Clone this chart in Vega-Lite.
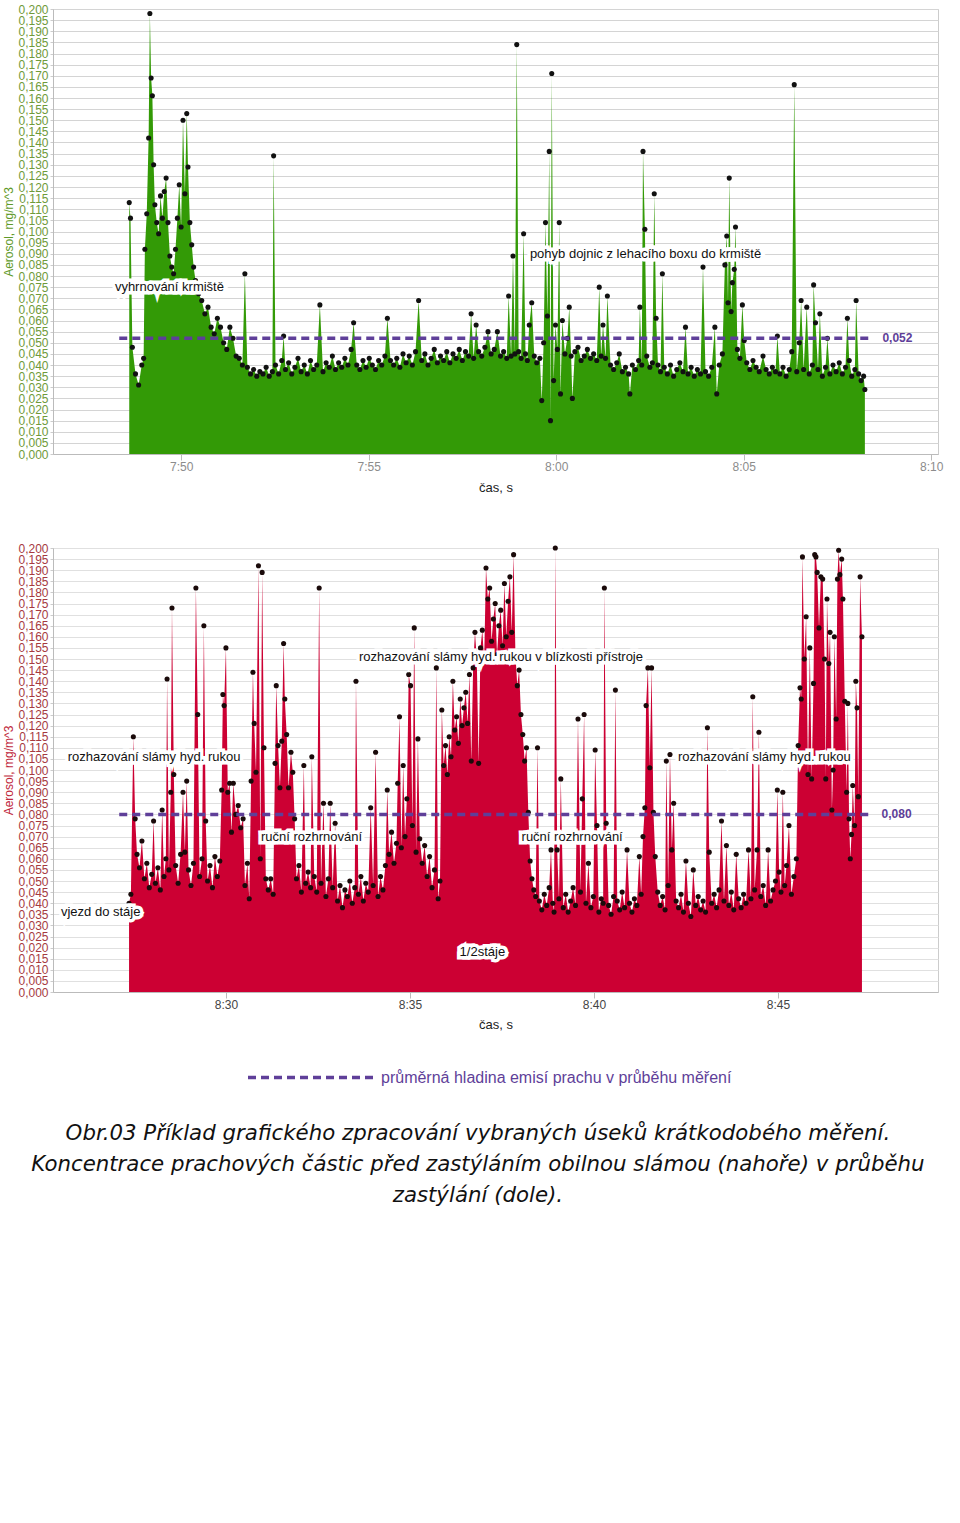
{
  "$schema": "https://vega.github.io/schema/vega-lite/v6.json",
  "background": "white",
  "padding": {"top": 2, "left": 2, "right": 10, "bottom": 20},
  "spacing": 46,
  "config": {
    "font": "Liberation Sans",
    "view": {"stroke": "#cccccc", "strokeWidth": 1},
    "axis": {"labelFont": "Liberation Sans", "titleFont": "Liberation Sans", "titleFontWeight": "normal"}
  },
  "title": {
    "text": ["Obr.03 Příklad grafického zpracování vybraných úseků krátkodobého měření.", "Koncentrace prachových částic před zastýláním obilnou slámou (nahoře) v průběhu", "zastýlání (dole)."],
    "orient": "bottom", "anchor": "middle", "font": "DejaVu Sans", "fontStyle": "italic", "fontWeight": "normal",
    "fontSize": 21.3, "lineHeight": 31, "color": "#111111", "offset": 37, "dx": 5
  },
  "vconcat": [
    {
      "width": 885, "height": 445,
      "data": {"format": {"parse": {"t": "date:'%H:%M:%S'"}}, "values": [
        {"t":"07:48:37","v":0.113},{"t":"07:48:39","v":0.106},{"t":"07:48:42","v":0.048},{"t":"07:48:47","v":0.036},{"t":"07:48:52","v":0.031},{"t":"07:48:57","v":0.040},{"t":"07:49:00","v":0.043},
        {"t":"07:49:02","v":0.092},{"t":"07:49:05","v":0.108},{"t":"07:49:08","v":0.142},{"t":"07:49:10","v":0.198},{"t":"07:49:12","v":0.169},{"t":"07:49:14","v":0.161},{"t":"07:49:16","v":0.130},{"t":"07:49:18","v":0.112},{"t":"07:49:21","v":0.104},{"t":"07:49:24","v":0.099},{"t":"07:49:27","v":0.116},{"t":"07:49:30","v":0.106},{"t":"07:49:33","v":0.118},{"t":"07:49:36","v":0.124},{"t":"07:49:39","v":0.104},{"t":"07:49:42","v":0.089},{"t":"07:49:45","v":0.084},{"t":"07:49:48","v":0.081},{"t":"07:49:51","v":0.092},{"t":"07:49:54","v":0.106},{"t":"07:49:57","v":0.121},{"t":"07:50:00","v":0.102},{"t":"07:50:03","v":0.150},{"t":"07:50:06","v":0.117},{"t":"07:50:09","v":0.153},{"t":"07:50:11","v":0.129},{"t":"07:50:14","v":0.104},{"t":"07:50:17","v":0.094},{"t":"07:50:20","v":0.084},{"t":"07:50:23","v":0.078},
        {"t":"07:50:28","v":0.072},{"t":"07:50:33","v":0.069},{"t":"07:50:38","v":0.063},{"t":"07:50:43","v":0.066},{"t":"07:50:48","v":0.057},{"t":"07:50:53","v":0.054},{"t":"07:50:58","v":0.061},{"t":"07:51:03","v":0.057},{"t":"07:51:08","v":0.050},{"t":"07:51:13","v":0.047},{"t":"07:51:18","v":0.057},{"t":"07:51:23","v":0.052},{"t":"07:51:28","v":0.044},{"t":"07:51:33","v":0.043},{"t":"07:51:38","v":0.040},{"t":"07:51:42","v":0.081},{"t":"07:51:46","v":0.039},{"t":"07:51:51","v":0.036},{"t":"07:51:56","v":0.038},
        {"t":"07:52:01","v":0.035},{"t":"07:52:06","v":0.037},{"t":"07:52:11","v":0.036},{"t":"07:52:16","v":0.039},{"t":"07:52:21","v":0.035},{"t":"07:52:26","v":0.037},{"t":"07:52:28","v":0.134},{"t":"07:52:31","v":0.040},{"t":"07:52:36","v":0.036},{"t":"07:52:41","v":0.042},{"t":"07:52:44","v":0.053},{"t":"07:52:47","v":0.038},{"t":"07:52:52","v":0.041},{"t":"07:52:57","v":0.036},
        {"t":"07:53:02","v":0.039},{"t":"07:53:07","v":0.043},{"t":"07:53:12","v":0.037},{"t":"07:53:17","v":0.040},{"t":"07:53:22","v":0.036},{"t":"07:53:27","v":0.042},{"t":"07:53:32","v":0.038},{"t":"07:53:37","v":0.040},{"t":"07:53:42","v":0.067},{"t":"07:53:47","v":0.037},{"t":"07:53:52","v":0.041},{"t":"07:53:57","v":0.039},
        {"t":"07:54:02","v":0.044},{"t":"07:54:07","v":0.038},{"t":"07:54:12","v":0.041},{"t":"07:54:17","v":0.039},{"t":"07:54:22","v":0.043},{"t":"07:54:27","v":0.040},{"t":"07:54:32","v":0.047},{"t":"07:54:36","v":0.059},{"t":"07:54:41","v":0.040},{"t":"07:54:46","v":0.038},{"t":"07:54:51","v":0.042},{"t":"07:54:56","v":0.039},
        {"t":"07:55:01","v":0.043},{"t":"07:55:06","v":0.040},{"t":"07:55:11","v":0.038},{"t":"07:55:16","v":0.042},{"t":"07:55:21","v":0.040},{"t":"07:55:26","v":0.044},{"t":"07:55:30","v":0.061},{"t":"07:55:35","v":0.042},{"t":"07:55:40","v":0.040},{"t":"07:55:45","v":0.043},{"t":"07:55:50","v":0.039},{"t":"07:55:55","v":0.045},
        {"t":"07:56:00","v":0.041},{"t":"07:56:05","v":0.044},{"t":"07:56:10","v":0.040},{"t":"07:56:15","v":0.046},{"t":"07:56:20","v":0.069},{"t":"07:56:25","v":0.042},{"t":"07:56:30","v":0.045},{"t":"07:56:35","v":0.040},{"t":"07:56:40","v":0.043},{"t":"07:56:45","v":0.047},{"t":"07:56:50","v":0.041},{"t":"07:56:55","v":0.044},
        {"t":"07:57:00","v":0.042},{"t":"07:57:05","v":0.046},{"t":"07:57:10","v":0.041},{"t":"07:57:15","v":0.045},{"t":"07:57:20","v":0.043},{"t":"07:57:25","v":0.047},{"t":"07:57:30","v":0.042},{"t":"07:57:35","v":0.046},{"t":"07:57:40","v":0.044},{"t":"07:57:44","v":0.063},{"t":"07:57:48","v":0.043},{"t":"07:57:52","v":0.058},{"t":"07:57:56","v":0.046},
        {"t":"07:58:01","v":0.044},{"t":"07:58:06","v":0.048},{"t":"07:58:11","v":0.055},{"t":"07:58:16","v":0.045},{"t":"07:58:21","v":0.047},{"t":"07:58:26","v":0.055},{"t":"07:58:31","v":0.044},{"t":"07:58:36","v":0.046},{"t":"07:58:41","v":0.043},{"t":"07:58:44","v":0.071},{"t":"07:58:48","v":0.044},{"t":"07:58:51","v":0.089},{"t":"07:58:54","v":0.045},{"t":"07:58:57","v":0.184},
        {"t":"07:59:00","v":0.046},{"t":"07:59:04","v":0.043},{"t":"07:59:08","v":0.099},{"t":"07:59:11","v":0.045},{"t":"07:59:14","v":0.042},{"t":"07:59:17","v":0.058},{"t":"07:59:21","v":0.068},{"t":"07:59:25","v":0.044},{"t":"07:59:29","v":0.041},{"t":"07:59:34","v":0.043},{"t":"07:59:37","v":0.024},{"t":"07:59:40","v":0.050},{"t":"07:59:43","v":0.104},{"t":"07:59:46","v":0.062},{"t":"07:59:49","v":0.136},{"t":"07:59:51","v":0.015},{"t":"07:59:53","v":0.171},{"t":"07:59:56","v":0.033},{"t":"07:59:59","v":0.058},
        {"t":"08:00:02","v":0.047},{"t":"08:00:05","v":0.104},{"t":"08:00:07","v":0.027},{"t":"08:00:10","v":0.060},{"t":"08:00:14","v":0.045},{"t":"08:00:18","v":0.052},{"t":"08:00:21","v":0.066},{"t":"08:00:24","v":0.044},{"t":"08:00:26","v":0.025},{"t":"08:00:30","v":0.046},{"t":"08:00:35","v":0.048},{"t":"08:00:40","v":0.042},{"t":"08:00:45","v":0.044},{"t":"08:00:50","v":0.047},{"t":"08:00:55","v":0.043},
        {"t":"08:01:00","v":0.045},{"t":"08:01:05","v":0.042},{"t":"08:01:09","v":0.075},{"t":"08:01:12","v":0.044},{"t":"08:01:15","v":0.058},{"t":"08:01:19","v":0.043},{"t":"08:01:22","v":0.071},{"t":"08:01:27","v":0.040},{"t":"08:01:32","v":0.038},{"t":"08:01:37","v":0.041},{"t":"08:01:41","v":0.045},{"t":"08:01:46","v":0.037},{"t":"08:01:51","v":0.039},{"t":"08:01:56","v":0.036},{"t":"08:01:58","v":0.027},
        {"t":"08:02:02","v":0.040},{"t":"08:02:07","v":0.038},{"t":"08:02:12","v":0.042},{"t":"08:02:14","v":0.066},{"t":"08:02:17","v":0.040},{"t":"08:02:19","v":0.136},{"t":"08:02:22","v":0.101},{"t":"08:02:25","v":0.044},{"t":"08:02:30","v":0.039},{"t":"08:02:34","v":0.041},{"t":"08:02:37","v":0.117},{"t":"08:02:40","v":0.061},{"t":"08:02:43","v":0.040},{"t":"08:02:47","v":0.037},{"t":"08:02:50","v":0.081},{"t":"08:02:53","v":0.039},{"t":"08:02:58","v":0.036},
        {"t":"08:03:03","v":0.040},{"t":"08:03:08","v":0.035},{"t":"08:03:13","v":0.038},{"t":"08:03:18","v":0.041},{"t":"08:03:23","v":0.037},{"t":"08:03:27","v":0.057},{"t":"08:03:31","v":0.036},{"t":"08:03:36","v":0.039},{"t":"08:03:41","v":0.035},{"t":"08:03:46","v":0.038},{"t":"08:03:51","v":0.036},{"t":"08:03:55","v":0.084},{"t":"08:03:59","v":0.037},
        {"t":"08:04:04","v":0.035},{"t":"08:04:09","v":0.039},{"t":"08:04:14","v":0.057},{"t":"08:04:17","v":0.027},{"t":"08:04:21","v":0.040},{"t":"08:04:26","v":0.045},{"t":"08:04:30","v":0.085},{"t":"08:04:33","v":0.098},{"t":"08:04:35","v":0.068},{"t":"08:04:37","v":0.124},{"t":"08:04:40","v":0.064},{"t":"08:04:42","v":0.077},{"t":"08:04:45","v":0.083},{"t":"08:04:47","v":0.102},{"t":"08:04:50","v":0.047},{"t":"08:04:54","v":0.043},{"t":"08:04:58","v":0.067},
        {"t":"08:05:01","v":0.051},{"t":"08:05:05","v":0.041},{"t":"08:05:10","v":0.038},{"t":"08:05:15","v":0.042},{"t":"08:05:20","v":0.039},{"t":"08:05:25","v":0.037},{"t":"08:05:31","v":0.044},{"t":"08:05:36","v":0.038},{"t":"08:05:41","v":0.036},{"t":"08:05:46","v":0.039},{"t":"08:05:51","v":0.037},{"t":"08:05:54","v":0.053},{"t":"08:05:58","v":0.036},
        {"t":"08:06:03","v":0.039},{"t":"08:06:08","v":0.035},{"t":"08:06:13","v":0.038},{"t":"08:06:17","v":0.046},{"t":"08:06:21","v":0.166},{"t":"08:06:25","v":0.037},{"t":"08:06:29","v":0.050},{"t":"08:06:32","v":0.069},{"t":"08:06:36","v":0.038},{"t":"08:06:41","v":0.066},{"t":"08:06:45","v":0.036},{"t":"08:06:50","v":0.040},{"t":"08:06:52","v":0.076},{"t":"08:06:55","v":0.059},{"t":"08:06:59","v":0.038},
        {"t":"08:07:02","v":0.063},{"t":"08:07:06","v":0.035},{"t":"08:07:11","v":0.039},{"t":"08:07:14","v":0.052},{"t":"08:07:18","v":0.036},{"t":"08:07:23","v":0.040},{"t":"08:07:28","v":0.037},{"t":"08:07:33","v":0.041},{"t":"08:07:38","v":0.036},{"t":"08:07:43","v":0.039},{"t":"08:07:46","v":0.061},{"t":"08:07:49","v":0.042},{"t":"08:07:53","v":0.035},{"t":"08:07:58","v":0.038},
        {"t":"08:08:00","v":0.069},{"t":"08:08:04","v":0.036},{"t":"08:08:08","v":0.033},{"t":"08:08:12","v":0.035},{"t":"08:08:14","v":0.029}
      ]},
      "encoding": {
        "x": {"field": "t", "type": "temporal", "title": "čas, s",
          "scale": {"domain": [{"year": 1900, "month": 1, "date": 1, "hours": 7, "minutes": 46, "seconds": 35}, {"year": 1900, "month": 1, "date": 1, "hours": 8, "minutes": 10, "seconds": 11}]},
          "axis": {"values": [{"year": 1900, "month": 1, "date": 1, "hours": 7, "minutes": 50}, {"year": 1900, "month": 1, "date": 1, "hours": 7, "minutes": 55}, {"year": 1900, "month": 1, "date": 1, "hours": 8, "minutes": 0}, {"year": 1900, "month": 1, "date": 1, "hours": 8, "minutes": 5}, {"year": 1900, "month": 1, "date": 1, "hours": 8, "minutes": 10}],
            "format": "%-H:%M", "grid": false, "labelColor": "#8c8c8c", "labelFontSize": 12, "tickSize": 6, "tickColor": "#bbbbbb", "domainColor": "#bbbbbb", "labelPadding": 1, "titleColor": "#222222", "titleFontSize": 13, "titlePadding": 9, "labelFlush": false}},
        "y": {"field": "v", "type": "quantitative", "title": "Aerosol, mg/m^3",
          "scale": {"domain": [0, 0.2], "nice": false},
          "axis": {"values": [0,0.005,0.01,0.015,0.02,0.025,0.03,0.035,0.04,0.045,0.05,0.055,0.06,0.065,0.07,0.075,0.08,0.085,0.09,0.095,0.1,0.105,0.11,0.115,0.12,0.125,0.13,0.135,0.14,0.145,0.15,0.155,0.16,0.165,0.17,0.175,0.18,0.185,0.19,0.195,0.2],
            "labelExpr": "replace(format(datum.value, '.3f'), '.', ',')", "labelOverlap": false, "labelFlush": false, "labelColor": "#6f9a3a", "labelFontSize": 12, "labelPadding": 2, "tickSize": 3, "tickColor": "#cccccc", "domainColor": "#bbbbbb", "gridColor": "#d4d4d4", "gridWidth": 1.2, "titleColor": "#5f9a2a", "titleFontSize": 12, "titlePadding": 2}}
      },
      "layer": [
        {"mark": {"type": "area", "color": "#339a06", "interpolate": "linear", "line": false}},
        {"mark": {"type": "point", "filled": true, "color": "#111111", "size": 26, "opacity": 1}},
        {
          "data": {"format": {"parse": {"t": "date:'%H:%M:%S'", "t2": "date:'%H:%M:%S'"}}, "values": [{"t": "07:48:21", "t2": "08:08:27", "v": 0.052}]},
          "mark": {"type": "rule", "color": "#5f3f99", "strokeWidth": 3.5, "strokeDash": [8, 5]},
          "encoding": {"x2": {"field": "t2"}}
        },
        {
          "data": {"format": {"parse": {"t": "date:'%H:%M:%S'"}}, "values": [{"t": "08:08:42", "v": 0.052, "txt": "0,052"}]},
          "mark": {"type": "text", "align": "left", "baseline": "middle", "color": "#5f3f99", "fontWeight": "bold", "fontSize": 12},
          "encoding": {"text": {"field": "txt", "type": "nominal"}}
        },
        {
          "data": {"format": {"parse": {"t": "date:'%H:%M:%S'"}}, "values": [{"t": "07:48:14", "v": 0.075, "txt": "vyhrnování krmiště"}, {"t": "07:59:18", "v": 0.090, "txt": "pohyb dojnic z lehacího boxu do krmiště"}]},
          "layer": [
            {"mark": {"type": "text", "align": "left", "baseline": "middle", "fontSize": 13, "color": "white", "stroke": "white", "strokeWidth": 7},
             "encoding": {"text": {"field": "txt", "type": "nominal"}}},
            {"mark": {"type": "text", "align": "left", "baseline": "middle", "fontSize": 13, "color": "#111111"},
             "encoding": {"text": {"field": "txt", "type": "nominal"}}}
          ]
        }
      ]
    },
    {
      "width": 885, "height": 444,
      "data": {"format": {"parse": {"t": "date:'%H:%M:%S'"}}, "values": [
        {"t":"08:27:22","v":0.040},{"t":"08:27:25","v":0.044},{"t":"08:27:29","v":0.115},{"t":"08:27:32","v":0.078},{"t":"08:27:35","v":0.062},{"t":"08:27:39","v":0.056},{"t":"08:27:43","v":0.068},{"t":"08:27:47","v":0.051},{"t":"08:27:51","v":0.058},{"t":"08:27:55","v":0.047},{"t":"08:27:59","v":0.053},
        {"t":"08:28:02","v":0.077},{"t":"08:28:05","v":0.049},{"t":"08:28:09","v":0.056},{"t":"08:28:13","v":0.046},{"t":"08:28:16","v":0.082},{"t":"08:28:19","v":0.052},{"t":"08:28:22","v":0.060},{"t":"08:28:24","v":0.141},{"t":"08:28:27","v":0.055},{"t":"08:28:30","v":0.090},{"t":"08:28:32","v":0.173},{"t":"08:28:35","v":0.098},{"t":"08:28:38","v":0.057},{"t":"08:28:42","v":0.049},{"t":"08:28:46","v":0.062},{"t":"08:28:50","v":0.090},{"t":"08:28:53","v":0.063},{"t":"08:28:56","v":0.095},{"t":"08:28:59","v":0.055},
        {"t":"08:29:03","v":0.048},{"t":"08:29:07","v":0.058},{"t":"08:29:11","v":0.182},{"t":"08:29:14","v":0.125},{"t":"08:29:17","v":0.052},{"t":"08:29:21","v":0.060},{"t":"08:29:24","v":0.165},{"t":"08:29:27","v":0.077},{"t":"08:29:30","v":0.050},{"t":"08:29:34","v":0.057},{"t":"08:29:38","v":0.047},{"t":"08:29:42","v":0.061},{"t":"08:29:46","v":0.052},{"t":"08:29:50","v":0.059},{"t":"08:29:53","v":0.091},{"t":"08:29:55","v":0.134},{"t":"08:29:57","v":0.129},
        {"t":"08:30:00","v":0.155},{"t":"08:30:03","v":0.090},{"t":"08:30:06","v":0.094},{"t":"08:30:09","v":0.072},{"t":"08:30:12","v":0.094},{"t":"08:30:16","v":0.080},{"t":"08:30:20","v":0.084},{"t":"08:30:24","v":0.074},{"t":"08:30:28","v":0.078},{"t":"08:30:31","v":0.048},{"t":"08:30:35","v":0.058},{"t":"08:30:38","v":0.042},{"t":"08:30:41","v":0.095},{"t":"08:30:44","v":0.144},{"t":"08:30:46","v":0.121},{"t":"08:30:49","v":0.099},{"t":"08:30:53","v":0.192},{"t":"08:30:56","v":0.060},{"t":"08:30:59","v":0.189},
        {"t":"08:31:02","v":0.110},{"t":"08:31:05","v":0.051},{"t":"08:31:09","v":0.046},{"t":"08:31:13","v":0.051},{"t":"08:31:17","v":0.044},{"t":"08:31:20","v":0.103},{"t":"08:31:22","v":0.138},{"t":"08:31:25","v":0.111},{"t":"08:31:28","v":0.092},{"t":"08:31:31","v":0.113},{"t":"08:31:34","v":0.157},{"t":"08:31:36","v":0.132},{"t":"08:31:39","v":0.116},{"t":"08:31:42","v":0.092},{"t":"08:31:46","v":0.108},{"t":"08:31:49","v":0.099},{"t":"08:31:52","v":0.078},{"t":"08:31:55","v":0.051},{"t":"08:31:59","v":0.057},
        {"t":"08:32:03","v":0.045},{"t":"08:32:07","v":0.102},{"t":"08:32:10","v":0.049},{"t":"08:32:14","v":0.054},{"t":"08:32:18","v":0.047},{"t":"08:32:20","v":0.106},{"t":"08:32:24","v":0.052},{"t":"08:32:28","v":0.045},{"t":"08:32:32","v":0.182},{"t":"08:32:35","v":0.049},{"t":"08:32:39","v":0.085},{"t":"08:32:43","v":0.043},{"t":"08:32:47","v":0.051},{"t":"08:32:50","v":0.085},{"t":"08:32:54","v":0.047},{"t":"08:32:58","v":0.076},
        {"t":"08:33:02","v":0.041},{"t":"08:33:06","v":0.048},{"t":"08:33:10","v":0.038},{"t":"08:33:14","v":0.046},{"t":"08:33:18","v":0.043},{"t":"08:33:22","v":0.050},{"t":"08:33:26","v":0.040},{"t":"08:33:30","v":0.047},{"t":"08:33:32","v":0.140},{"t":"08:33:36","v":0.044},{"t":"08:33:40","v":0.052},{"t":"08:33:44","v":0.041},{"t":"08:33:48","v":0.049},{"t":"08:33:52","v":0.045},{"t":"08:33:56","v":0.083},
        {"t":"08:34:00","v":0.048},{"t":"08:34:04","v":0.108},{"t":"08:34:08","v":0.043},{"t":"08:34:12","v":0.052},{"t":"08:34:16","v":0.046},{"t":"08:34:20","v":0.057},{"t":"08:34:23","v":0.091},{"t":"08:34:26","v":0.062},{"t":"08:34:30","v":0.072},{"t":"08:34:34","v":0.058},{"t":"08:34:38","v":0.067},{"t":"08:34:40","v":0.094},{"t":"08:34:43","v":0.124},{"t":"08:34:46","v":0.065},{"t":"08:34:49","v":0.102},{"t":"08:34:52","v":0.070},{"t":"08:34:55","v":0.087},{"t":"08:34:58","v":0.143},
        {"t":"08:35:01","v":0.138},{"t":"08:35:04","v":0.075},{"t":"08:35:07","v":0.164},{"t":"08:35:10","v":0.063},{"t":"08:35:13","v":0.114},{"t":"08:35:16","v":0.069},{"t":"08:35:20","v":0.058},{"t":"08:35:24","v":0.066},{"t":"08:35:28","v":0.052},{"t":"08:35:32","v":0.061},{"t":"08:35:36","v":0.047},{"t":"08:35:40","v":0.055},{"t":"08:35:43","v":0.146},{"t":"08:35:46","v":0.042},{"t":"08:35:49","v":0.050},{"t":"08:35:52","v":0.127},{"t":"08:35:55","v":0.102},{"t":"08:35:58","v":0.111},
        {"t":"08:36:01","v":0.098},{"t":"08:36:04","v":0.115},{"t":"08:36:07","v":0.106},{"t":"08:36:10","v":0.140},{"t":"08:36:13","v":0.118},{"t":"08:36:16","v":0.124},{"t":"08:36:19","v":0.112},{"t":"08:36:22","v":0.132},{"t":"08:36:25","v":0.120},{"t":"08:36:28","v":0.128},{"t":"08:36:31","v":0.135},{"t":"08:36:34","v":0.121},{"t":"08:36:37","v":0.143},{"t":"08:36:40","v":0.104},{"t":"08:36:43","v":0.146},{"t":"08:36:46","v":0.162},{"t":"08:36:49","v":0.150},{"t":"08:36:52","v":0.103},{"t":"08:36:55","v":0.155},{"t":"08:36:58","v":0.163},
        {"t":"08:37:01","v":0.149},{"t":"08:37:04","v":0.191},{"t":"08:37:07","v":0.177},{"t":"08:37:10","v":0.182},{"t":"08:37:13","v":0.158},{"t":"08:37:16","v":0.168},{"t":"08:37:19","v":0.175},{"t":"08:37:22","v":0.152},{"t":"08:37:25","v":0.165},{"t":"08:37:28","v":0.172},{"t":"08:37:31","v":0.156},{"t":"08:37:34","v":0.184},{"t":"08:37:37","v":0.160},{"t":"08:37:40","v":0.176},{"t":"08:37:43","v":0.187},{"t":"08:37:46","v":0.162},{"t":"08:37:49","v":0.197},{"t":"08:37:52","v":0.152},{"t":"08:37:55","v":0.138},{"t":"08:37:58","v":0.145},
        {"t":"08:38:01","v":0.125},{"t":"08:38:04","v":0.116},{"t":"08:38:07","v":0.104},{"t":"08:38:10","v":0.110},{"t":"08:38:13","v":0.081},{"t":"08:38:16","v":0.059},{"t":"08:38:19","v":0.051},{"t":"08:38:22","v":0.046},{"t":"08:38:25","v":0.043},{"t":"08:38:28","v":0.110},{"t":"08:38:31","v":0.041},{"t":"08:38:35","v":0.037},{"t":"08:38:39","v":0.044},{"t":"08:38:43","v":0.039},{"t":"08:38:47","v":0.047},{"t":"08:38:50","v":0.064},{"t":"08:38:53","v":0.040},{"t":"08:38:55","v":0.036},{"t":"08:38:57","v":0.200},
        {"t":"08:39:00","v":0.064},{"t":"08:39:03","v":0.042},{"t":"08:39:06","v":0.096},{"t":"08:39:10","v":0.038},{"t":"08:39:14","v":0.044},{"t":"08:39:18","v":0.036},{"t":"08:39:22","v":0.041},{"t":"08:39:26","v":0.047},{"t":"08:39:30","v":0.039},{"t":"08:39:34","v":0.123},{"t":"08:39:38","v":0.045},{"t":"08:39:41","v":0.087},{"t":"08:39:44","v":0.125},{"t":"08:39:47","v":0.040},{"t":"08:39:51","v":0.058},{"t":"08:39:55","v":0.038},{"t":"08:39:59","v":0.043},
        {"t":"08:40:02","v":0.109},{"t":"08:40:05","v":0.075},{"t":"08:40:08","v":0.036},{"t":"08:40:12","v":0.042},{"t":"08:40:15","v":0.040},{"t":"08:40:17","v":0.182},{"t":"08:40:20","v":0.076},{"t":"08:40:24","v":0.039},{"t":"08:40:28","v":0.035},{"t":"08:40:32","v":0.043},{"t":"08:40:35","v":0.136},{"t":"08:40:38","v":0.041},{"t":"08:40:42","v":0.037},{"t":"08:40:46","v":0.045},{"t":"08:40:50","v":0.038},{"t":"08:40:54","v":0.064},{"t":"08:40:58","v":0.040},
        {"t":"08:41:02","v":0.036},{"t":"08:41:06","v":0.042},{"t":"08:41:10","v":0.039},{"t":"08:41:14","v":0.061},{"t":"08:41:17","v":0.044},{"t":"08:41:20","v":0.070},{"t":"08:41:23","v":0.083},{"t":"08:41:25","v":0.129},{"t":"08:41:28","v":0.146},{"t":"08:41:31","v":0.101},{"t":"08:41:34","v":0.146},{"t":"08:41:37","v":0.081},{"t":"08:41:40","v":0.061},{"t":"08:41:44","v":0.045},{"t":"08:41:48","v":0.039},{"t":"08:41:52","v":0.043},{"t":"08:41:56","v":0.037},{"t":"08:41:58","v":0.104},
        {"t":"08:42:01","v":0.048},{"t":"08:42:04","v":0.107},{"t":"08:42:07","v":0.064},{"t":"08:42:10","v":0.085},{"t":"08:42:14","v":0.041},{"t":"08:42:18","v":0.038},{"t":"08:42:22","v":0.044},{"t":"08:42:26","v":0.036},{"t":"08:42:30","v":0.059},{"t":"08:42:34","v":0.040},{"t":"08:42:38","v":0.034},{"t":"08:42:42","v":0.055},{"t":"08:42:46","v":0.039},{"t":"08:42:50","v":0.043},{"t":"08:42:54","v":0.037},{"t":"08:42:58","v":0.041},
        {"t":"08:43:02","v":0.036},{"t":"08:43:05","v":0.119},{"t":"08:43:08","v":0.063},{"t":"08:43:12","v":0.040},{"t":"08:43:16","v":0.044},{"t":"08:43:20","v":0.038},{"t":"08:43:24","v":0.046},{"t":"08:43:28","v":0.077},{"t":"08:43:32","v":0.041},{"t":"08:43:36","v":0.066},{"t":"08:43:40","v":0.039},{"t":"08:43:44","v":0.045},{"t":"08:43:48","v":0.037},{"t":"08:43:52","v":0.062},{"t":"08:43:56","v":0.042},
        {"t":"08:44:00","v":0.038},{"t":"08:44:04","v":0.044},{"t":"08:44:08","v":0.040},{"t":"08:44:12","v":0.064},{"t":"08:44:16","v":0.042},{"t":"08:44:19","v":0.133},{"t":"08:44:22","v":0.046},{"t":"08:44:26","v":0.064},{"t":"08:44:29","v":0.117},{"t":"08:44:32","v":0.043},{"t":"08:44:36","v":0.048},{"t":"08:44:40","v":0.039},{"t":"08:44:44","v":0.064},{"t":"08:44:48","v":0.041},{"t":"08:44:52","v":0.046},{"t":"08:44:56","v":0.050},{"t":"08:44:59","v":0.091},
        {"t":"08:45:02","v":0.054},{"t":"08:45:05","v":0.045},{"t":"08:45:08","v":0.090},{"t":"08:45:11","v":0.048},{"t":"08:45:14","v":0.057},{"t":"08:45:18","v":0.075},{"t":"08:45:22","v":0.044},{"t":"08:45:26","v":0.052},{"t":"08:45:30","v":0.060},{"t":"08:45:33","v":0.111},{"t":"08:45:36","v":0.137},{"t":"08:45:38","v":0.132},{"t":"08:45:40","v":0.196},{"t":"08:45:43","v":0.150},{"t":"08:45:46","v":0.169},{"t":"08:45:49","v":0.098},{"t":"08:45:52","v":0.155},{"t":"08:45:55","v":0.096},{"t":"08:45:58","v":0.139},
        {"t":"08:46:00","v":0.197},{"t":"08:46:02","v":0.196},{"t":"08:46:04","v":0.189},{"t":"08:46:07","v":0.164},{"t":"08:46:10","v":0.187},{"t":"08:46:13","v":0.186},{"t":"08:46:16","v":0.150},{"t":"08:46:18","v":0.096},{"t":"08:46:20","v":0.177},{"t":"08:46:23","v":0.148},{"t":"08:46:25","v":0.162},{"t":"08:46:28","v":0.082},{"t":"08:46:30","v":0.100},{"t":"08:46:32","v":0.160},{"t":"08:46:35","v":0.123},{"t":"08:46:37","v":0.186},{"t":"08:46:39","v":0.199},{"t":"08:46:41","v":0.188},{"t":"08:46:44","v":0.195},{"t":"08:46:46","v":0.177},{"t":"08:46:49","v":0.131},{"t":"08:46:52","v":0.090},{"t":"08:46:54","v":0.130},{"t":"08:46:56","v":0.078},{"t":"08:46:58","v":0.060},
        {"t":"08:47:00","v":0.071},{"t":"08:47:02","v":0.093},{"t":"08:47:05","v":0.075},{"t":"08:47:07","v":0.140},{"t":"08:47:09","v":0.128},{"t":"08:47:11","v":0.088},{"t":"08:47:14","v":0.187},{"t":"08:47:17","v":0.160}
      ]},
      "encoding": {
        "x": {"field": "t", "type": "temporal", "title": "čas, s",
          "scale": {"domain": [{"year": 1900, "month": 1, "date": 1, "hours": 8, "minutes": 25, "seconds": 18}, {"year": 1900, "month": 1, "date": 1, "hours": 8, "minutes": 49, "seconds": 21}]},
          "axis": {"values": [{"year": 1900, "month": 1, "date": 1, "hours": 8, "minutes": 30}, {"year": 1900, "month": 1, "date": 1, "hours": 8, "minutes": 35}, {"year": 1900, "month": 1, "date": 1, "hours": 8, "minutes": 40}, {"year": 1900, "month": 1, "date": 1, "hours": 8, "minutes": 45}],
            "format": "%-H:%M", "grid": false, "labelColor": "#444444", "labelFontSize": 12, "tickSize": 6, "tickColor": "#bbbbbb", "domainColor": "#bbbbbb", "labelPadding": 1, "titleColor": "#222222", "titleFontSize": 13, "titlePadding": 8, "labelFlush": false}},
        "y": {"field": "v", "type": "quantitative", "title": "Aerosol, mg/m^3",
          "scale": {"domain": [0, 0.2], "nice": false},
          "axis": {"values": [0,0.005,0.01,0.015,0.02,0.025,0.03,0.035,0.04,0.045,0.05,0.055,0.06,0.065,0.07,0.075,0.08,0.085,0.09,0.095,0.1,0.105,0.11,0.115,0.12,0.125,0.13,0.135,0.14,0.145,0.15,0.155,0.16,0.165,0.17,0.175,0.18,0.185,0.19,0.195,0.2],
            "labelExpr": "replace(format(datum.value, '.3f'), '.', ',')", "labelOverlap": false, "labelFlush": false, "labelColor": "#a63a3f", "labelFontSize": 12, "labelPadding": 2, "tickSize": 3, "tickColor": "#cccccc", "domainColor": "#bbbbbb", "gridColor": "#e0e0e0", "gridWidth": 1.2, "titleColor": "#c0283c", "titleFontSize": 12, "titlePadding": 2}}
      },
      "layer": [
        {"mark": {"type": "area", "color": "#cc0033", "interpolate": "linear", "line": false}},
        {"mark": {"type": "point", "filled": true, "color": "#1a0a0a", "size": 26, "opacity": 1}},
        {
          "data": {"format": {"parse": {"t": "date:'%H:%M:%S'", "t2": "date:'%H:%M:%S'"}}, "values": [{"t": "08:27:06", "t2": "08:47:35", "v": 0.080, "s": "průměrná hladina emisí prachu v průběhu měření"}]},
          "mark": {"type": "rule", "strokeWidth": 3.5, "strokeDash": [8, 5]},
          "encoding": {"x2": {"field": "t2"},
            "color": {"field": "s", "type": "nominal", "scale": {"range": ["#5f3f99"]},
              "legend": {"orient": "none", "legendX": 193, "legendY": 1004, "title": null, "symbolType": "stroke", "symbolSize": 15625, "symbolStrokeWidth": 3.5, "symbolDash": [8, 5], "labelFontSize": 16, "labelColor": "#5f3f99", "labelFont": "Liberation Sans", "labelLimit": 600, "labelOffset": 6}}}
        },
        {
          "data": {"format": {"parse": {"t": "date:'%H:%M:%S'"}}, "values": [{"t": "08:47:49", "v": 0.080, "txt": "0,080"}]},
          "mark": {"type": "text", "align": "left", "baseline": "middle", "color": "#5f3f99", "fontWeight": "bold", "fontSize": 12},
          "encoding": {"text": {"field": "txt", "type": "nominal"}}
        },
        {
          "data": {"format": {"parse": {"t": "date:'%H:%M:%S'"}}, "values": [
            {"t": "08:33:37", "v": 0.151, "txt": "rozhazování slámy hyd. rukou v blízkosti přístroje"},
            {"t": "08:25:42", "v": 0.106, "txt": "rozhazování slámy hyd. rukou"},
            {"t": "08:42:17", "v": 0.106, "txt": "rozhazování slámy hyd. rukou"},
            {"t": "08:30:57", "v": 0.070, "txt": "ruční rozhrnování"},
            {"t": "08:38:02", "v": 0.070, "txt": "ruční rozhrnování"},
            {"t": "08:25:31", "v": 0.036, "txt": "vjezd do stáje"},
            {"t": "08:36:21", "v": 0.018, "txt": "1/2stáje"}
          ]},
          "layer": [
            {"mark": {"type": "text", "align": "left", "baseline": "middle", "fontSize": 13, "color": "white", "stroke": "white", "strokeWidth": 7},
             "encoding": {"text": {"field": "txt", "type": "nominal"}}},
            {"mark": {"type": "text", "align": "left", "baseline": "middle", "fontSize": 13, "color": "#111111"},
             "encoding": {"text": {"field": "txt", "type": "nominal"}}}
          ]
        }
      ]
    }
  ]
}
